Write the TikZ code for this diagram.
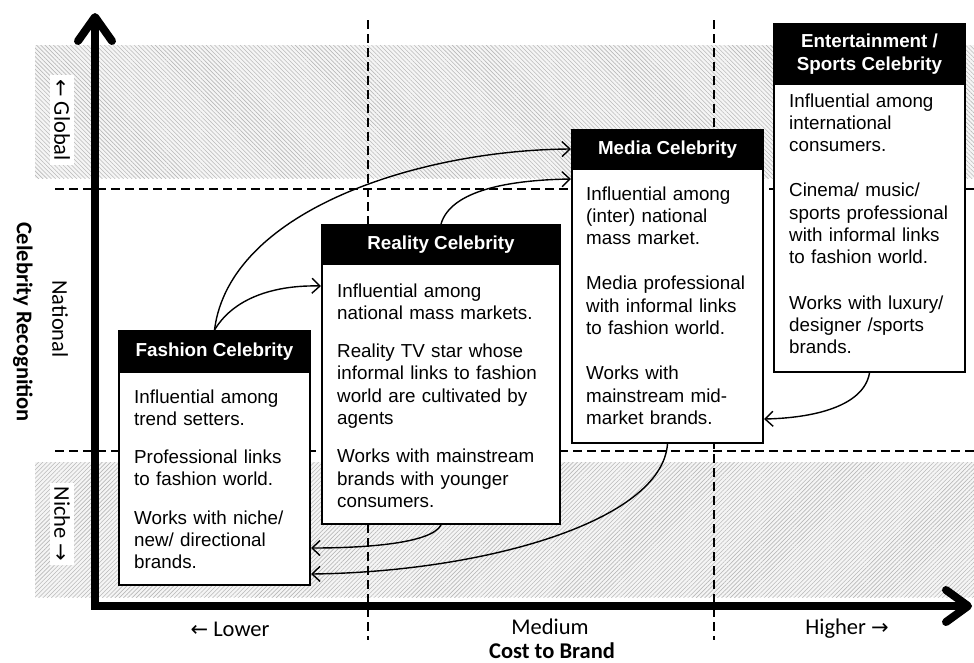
\documentclass[tikz,border=0pt]{standalone}
\usepackage{fontspec}
\setmainfont{Liberation Sans}
\newfontfamily\calfont{Carlito}
\newfontfamily\arrowfont{DejaVu Sans}
\usetikzlibrary{arrows.meta,patterns.meta,calc}
\newcommand\cbodyfont{\fontsize{18.8}{22.3}\selectfont}
\newcommand\cheadfont{\bfseries\fontsize{18.8}{23}\selectfont}
\newcommand\clabfont{\calfont\fontsize{22.5}{26}\selectfont}
\newcommand\clabbfont{\calfont\bfseries\fontsize{22.5}{26}\selectfont}
\newcommand\arr[1]{{\arrowfont\fontsize{21}{24}\selectfont #1}}
\begin{document}
\begin{tikzpicture}[x=1pt,y=-1pt,
  band/.style={fill=gray!8, postaction={pattern={Lines[angle=#1,distance=3pt,line width=0.6pt]}, pattern color=gray!55}},
  divider/.style={line width=1.4pt, dash pattern=on 9pt off 5pt},
  axis/.style={line width=8pt, line join=miter, arrows={Straight Barb[length=24pt,width=34pt,line cap=round,line join=round]-Straight Barb[length=22pt,width=32pt,line cap=round,line join=round]}},
  cbox/.style={draw, line width=2pt, fill=white, inner sep=0pt, anchor=north west},
  chead/.style={draw, line width=2pt, fill=black, text=white, font=\cheadfont, align=center, inner sep=0pt, anchor=north west},
  ctext/.style={font=\cbodyfont, text width=225pt, align=left, inner sep=0pt, anchor=base west},
  lab/.style={font=\clabfont, inner sep=0pt},
  labw/.style={font=\clabfont, inner sep=4pt, fill=white},
  labb/.style={font=\clabbfont, inner sep=0pt},
  flow/.style={line width=1.4pt, -{Straight Barb[length=8pt,width=15pt]}}
]
\path[use as bounding box] (0,0) rectangle (974,662);

% bands
\path[band=-45] (35,45) rectangle (974,178);
\path[band=45] (35,462) rectangle (974,597);

% dividers
\draw[divider] (55,189) -- (974,189);
\draw[divider] (55,451) -- (974,451);
\draw[divider] (368,20) -- (368,640);
\draw[divider] (714,20) -- (714,640);

% labels
\node[labw, rotate=-90] (global) at (62,120) {\arr{←} Global};
\node[lab, rotate=-90] (national) at (60,319) {National};
\node[labw, rotate=-90] (niche) at (62,524) {Niche \arr{→}};
\node[labb, rotate=-90] (ylabel) at (23,322) {Celebrity Recognition};
\node[lab, anchor=base] (lower) at (230,636) {\arr{←} Lower};
\node[lab, anchor=base] (medium) at (550,634) {Medium};
\node[lab, anchor=base] (higher) at (847,634) {Higher \arr{→}};
\node[labb, anchor=base] (xlabel) at (552,658) {Cost to Brand};

% axes
\coordinate (ytip) at (95,13);
\coordinate (origin) at (95,606);
\coordinate (xtip) at (972,606);
\draw[axis] (ytip) -- (origin) -- (xtip);

% Fashion
\node[cbox, minimum width=191pt, minimum height=254pt] (fashion) at (118,330) {};
\node[chead, minimum width=191pt, minimum height=41pt] (fashionh) at (fashion.north west) {Fashion Celebrity};
\node[ctext] (fashiont) at (134,403) {Influential among\\trend setters.\\[16pt]Professional links\\to fashion world.\\[16pt]Works with niche/\\new/ directional\\brands.};

% Reality
\node[cbox, minimum width=238pt, minimum height=299pt] (reality) at (321,224) {};
\node[chead, minimum width=238pt, minimum height=39pt] (realityh) at (reality.north west) {Reality Celebrity};
\node[ctext] (realityt) at (337,297) {Influential among\\national mass markets.\\[16pt]Reality TV star whose\\informal links to fashion\\world are cultivated by\\agents\\[16pt]Works with mainstream\\brands with younger\\consumers.};

% Media
\node[cbox, minimum width=191pt, minimum height=313pt] (media) at (571,129) {};
\node[chead, minimum width=191pt, minimum height=39pt] (mediah) at (media.north west) {Media Celebrity};
\node[ctext] (mediat) at (586,200) {Influential among\\(inter) national\\mass market.\\[23pt]Media professional\\with informal links\\to fashion world.\\[23pt]Works with\\mainstream mid-\\market brands.};

% Entertainment
\node[cbox, minimum width=191pt, minimum height=348pt] (ent) at (773,23) {};
\node[chead, minimum width=191pt, minimum height=60pt] (enth) at (ent.north west) {Entertainment /\\Sports Celebrity};
\node[ctext] (entt) at (789,107) {Influential among\\international\\consumers.\\[23pt]Cinema/ music/\\sports professional\\with informal links\\to fashion world.\\[23pt]Works with luxury/\\designer /sports\\brands.};

% connectors
\draw[flow] (fashionh.north) .. controls +(21,-35) and +(-41,-1) .. ([yshift=-62pt]reality.north west);
\draw[flow] (fashionh.north) .. controls +(15,-120) and +(-151,1) .. ([yshift=-20pt]media.north west);
\draw[flow] (realityh.north) .. controls +(10,-34) and +(-61,1) .. ([yshift=-50pt]media.north west);
\draw[flow] (media.south) .. controls +(-6,78) and +(171,-2) .. ([yshift=12pt]fashion.south east);
\draw[flow] (reality.south) .. controls +(-10,19) and +(51,0) .. ([yshift=38pt]fashion.south east);
\draw[flow] (ent.south) .. controls +(-6,34) and +(48,-1) .. ([yshift=25pt]media.south east);
\end{tikzpicture}
\end{document}
